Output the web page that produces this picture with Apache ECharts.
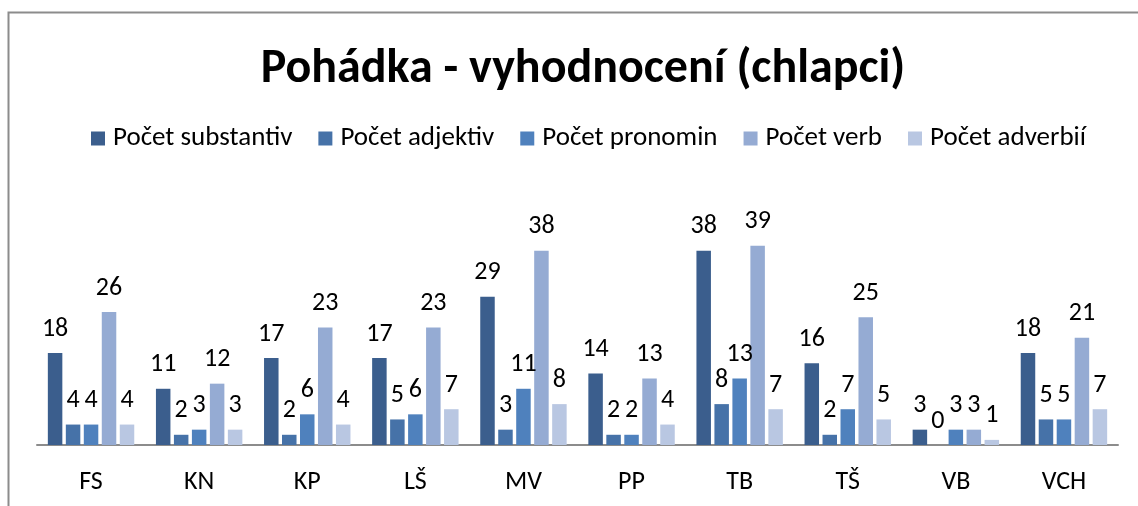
<!DOCTYPE html>
<html>
<head>
<meta charset="utf-8">
<script src="https://cdn.jsdelivr.net/npm/echarts@6/dist/echarts.min.js"></script>
<style>
html,body{margin:0;padding:0;background:#fff;}
#c{width:1138px;height:506px;}
</style>
</head>
<body>
<div id="c"></div>
<script>
const categories = ['FS','KN','KP','LŠ','MV','PP','TB','TŠ','VB','VCH'];
const seriesNames = ['Počet substantiv','Počet adjektiv','Počet pronomin','Počet verb','Počet adverbií'];
const substantiv = [18,11,17,17,29,14,38,16,3,18];
const adjektiv   = [4,2,2,5,3,2,8,2,0,5];
const pronomin   = [4,3,6,6,11,2,13,7,3,5];
const verb       = [26,12,23,23,38,13,39,25,3,21];
const adverbii   = [4,3,4,7,8,4,7,5,1,7];
const colors = ['#3B5E8D','#4672A8','#4F81BD','#95ABD3','#B9C7E2'];
const values = [substantiv, adjektiv, pronomin, verb, adverbii];

const font = 'Carlito, Lato, sans-serif';
const chart = echarts.init(document.getElementById('c'));
chart.setOption({
  animation: false,
  backgroundColor: '#fff',
  color: colors,
  graphic: [
    {type:'polyline', shape:{points:[[8.5,520],[8.5,12.5],[1150,12.5]]},
     style:{stroke:'#8c8c8c', lineWidth:2, fill:null}, silent:true}
  ],
  title: {
    text: 'Pohádka - vyhodnocení (chlapci)',
    left: 578, textAlign: 'center', top: 41,
    textStyle: {fontFamily: font, fontWeight: 'bold', fontSize: 48, color: '#000'}
  },
  legend: {
    left: 86, top: 120,
    itemWidth: 14, itemHeight: 14, itemGap: 26,
    icon: 'rect',
    textStyle: {fontFamily: font, fontSize: 27, color: '#000', padding:[0,0,0,3]},
    data: seriesNames
  },
  grid: {left: 37, right: 20, top: 215, bottom: 61, containLabel: false},
  xAxis: {
    type: 'category', data: categories,
    axisLine: {lineStyle: {color: '#8c8c8c', width: 2}},
    axisTick: {show: false},
    axisLabel: {fontFamily: font, fontSize: 26, color: '#000', margin: 24}
  },
  yAxis: {
    type: 'value', min: 0, max: 45, interval: 5,
    show: false, splitLine: {show: false}
  },
  series: seriesNames.map((n, i) => ({
    name: n, type: 'bar', data: values[i],
    barWidth: 14.5, barGap: '24%',
    itemStyle: {color: colors[i]},
    label: {show: true, position: 'top', distance: 11,
      fontFamily: font, fontSize: 26, color: '#000'}
  }))
});
</script>
</body>
</html>
